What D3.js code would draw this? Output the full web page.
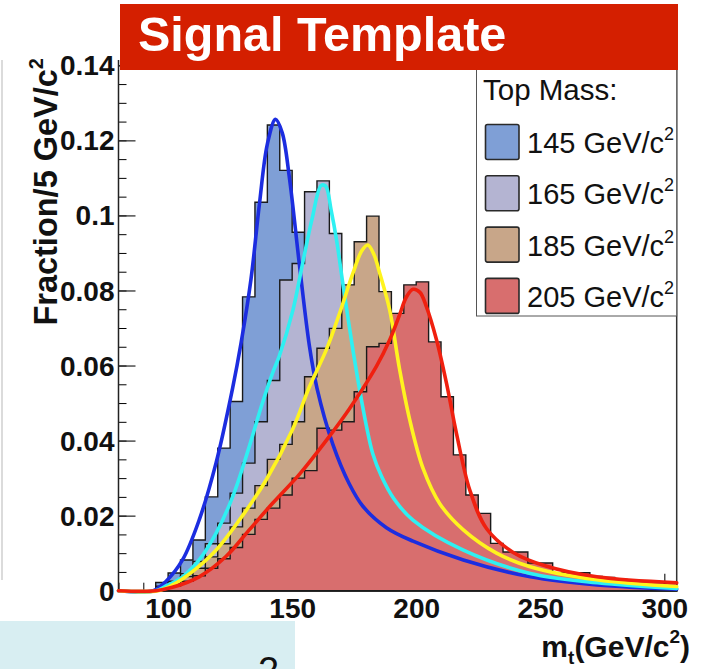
<!DOCTYPE html>
<html><head><meta charset="utf-8">
<script src="https://cdn.jsdelivr.net/npm/d3@7"></script>
<style>
html,body{margin:0;padding:0;background:#fff;}
svg text{font-family:"Liberation Sans",Arial,Helvetica,sans-serif;}
</style></head>
<body><svg id="c" width="702" height="669"></svg>
<script>
// ---------- DATA ----------
const binStart = 95, binWidth = 5;
const masses = ["145","165","185","205"];
const h145 = [0.0022,0.0047,0.0082,0.0135,0.025,0.038,0.0504,0.0783,0.1035,0.1241,0.112,0.0955,0.07,0.05,0.036,0.027,0.021,0.018,0.016,0.014,0.013,0.012,0.0105,0.009,0.0082,0.0072,0.0064,0.0056,0.005,0.0044,0.0038,0.0033,0.0029,0.0025,0.0022,0.0019,0.0016,0.0014,0.0012,0.001,0.0009,0.0008];
const h165 = [0.0012,0.0025,0.0045,0.0078,0.0125,0.018,0.026,0.034,0.045,0.056,0.0828,0.0872,0.1063,0.1092,0.0952,0.075,0.057,0.045,0.035,0.028,0.022,0.018,0.015,0.013,0.011,0.0095,0.0082,0.007,0.006,0.0052,0.0045,0.0039,0.0034,0.003,0.0026,0.0023,0.002,0.0017,0.0015,0.0013,0.0011,0.001];
const h185 = [0.0009,0.002,0.0038,0.006,0.009,0.0125,0.017,0.022,0.028,0.035,0.039,0.045,0.057,0.0646,0.0699,0.0815,0.093,0.0998,0.0797,0.062,0.048,0.036,0.028,0.022,0.018,0.015,0.012,0.01,0.0085,0.0072,0.006,0.0052,0.0045,0.0039,0.0034,0.003,0.0026,0.0022,0.0019,0.0016,0.0014,0.0012];
const h205 = [0.0006,0.0013,0.0025,0.004,0.006,0.0085,0.0115,0.015,0.019,0.022,0.0255,0.03,0.032,0.0433,0.0428,0.045,0.053,0.065,0.0659,0.0739,0.0815,0.0823,0.0663,0.0517,0.0362,0.0255,0.0206,0.0126,0.0103,0.0103,0.0074,0.0074,0.0048,0.0048,0.0048,0.0038,0.0035,0.003,0.0027,0.0024,0.0022,0.002];

const f145 = [[80,0],[94,0],[99,0.0024],[105.8,0.0082],[112.5,0.0188],[119.3,0.034],[126,0.054],[129.4,0.066],[133.4,0.083],[136.8,0.103],[140,0.119],[143.3,0.1256],[146,0.122],[148.9,0.110],[152.9,0.087],[157,0.065],[160,0.054],[166.4,0.039],[173,0.0285],[178.5,0.0225],[188,0.0168],[198.7,0.0132],[219,0.0082],[246,0.0037],[273,0.0015],[305,0.0004]];
const f165 = [[80,0],[95,0],[99,0.0012],[105.8,0.0037],[112.5,0.0082],[119.3,0.0153],[126,0.025],[132.7,0.0384],[138,0.05],[142.1,0.058],[144.8,0.0625],[150.2,0.0745],[154.3,0.0875],[158,0.099],[161.7,0.108],[163.5,0.1078],[165.7,0.1014],[168,0.093],[170.4,0.082],[174.5,0.0641],[177.2,0.0535],[179.9,0.044],[182.5,0.0365],[186,0.0305],[191,0.0245],[198.7,0.0188],[219,0.0108],[246,0.0046],[273,0.0021],[305,0.0006]];
const f185 = [[80,0],[96,0],[101.7,0.0015],[109.8,0.0051],[119.3,0.0108],[128.7,0.0188],[139.5,0.0295],[150.2,0.043],[157,0.0544],[163.7,0.0641],[169.1,0.0739],[174.5,0.0846],[178,0.0905],[180.5,0.0921],[183,0.0895],[185.3,0.0846],[189.3,0.0748],[193.3,0.059],[197.4,0.0455],[202.8,0.0325],[209.5,0.0232],[219,0.0162],[232.4,0.01],[245.9,0.0064],[272.8,0.0029],[305,0.0011]];
const f205 = [[80,0],[95,0],[101.7,0.0009],[112.5,0.0037],[123.3,0.0091],[132.7,0.0162],[142.1,0.0233],[152.9,0.031],[163.7,0.040],[173.1,0.0485],[183.9,0.0597],[189.3,0.0668],[193.3,0.0735],[196,0.0782],[198.7,0.0803],[201.5,0.0795],[204.1,0.0757],[208.2,0.0668],[212.2,0.0553],[216.2,0.042],[221.6,0.0268],[228.4,0.0165],[239.1,0.0102],[252.6,0.0065],[272.8,0.0037],[305,0.0021]];

const xTicks = [100,150,200,250,300];
const xTickLabels = ["100","150","200","250","300"];
const yTicks = [0,0.02,0.04,0.06,0.08,0.1,0.12,0.14];
const yTickLabels = ["0","0.02","0.04","0.06","0.08","0.1","0.12","0.14"];
const fillColors = ["#7f9fd6","#b4b4d2","#c8a689","#d86e6e"];
const lineColors = ["#1c2de0","#2ef0f2","#fff41e","#f0200f"];

// ---------- SCALES ----------
const svg = d3.select("#c");
const x = d3.scaleLinear().domain([80,305]).range([118.5,676.7]);
const y = d3.scaleLinear().domain([0,0.14]).range([590.7,65.3]);

// slide decorations
svg.append("line").attr("x1",2).attr("x2",2).attr("y1",60).attr("y2",580).attr("stroke","#cfcfcf").attr("stroke-width",1.5);
svg.append("rect").attr("x",0).attr("y",621).attr("width",295).attr("height",48).attr("fill","#d8eef2");
svg.append("text").attr("x",258).attr("y",684).attr("font-size",38).attr("fill","#111").text("2");

// ---------- AXES ----------
const yMinor = d3.range(0,0.1401,0.005);
svg.append("g").attr("transform","translate(118.5,0)")
  .call(d3.axisLeft(y).tickValues(yMinor).tickSizeInner(-8).tickSizeOuter(0).tickFormat(""))
  .call(g=>g.select(".domain").remove());
const gy = svg.append("g").attr("transform","translate(118.5,0)")
  .call(d3.axisLeft(y).tickValues(yTicks).tickFormat((d,i)=>yTickLabels[i]).tickSizeInner(-17).tickSizeOuter(0).tickPadding(4));
gy.select(".domain").remove();
gy.selectAll("line").attr("stroke","#222").attr("stroke-width",1.2);
gy.selectAll("text").attr("font-size",28).attr("font-weight","bold").attr("fill","#111")
  .attr("font-family","'Liberation Sans',Arial,sans-serif").attr("dy","0.34em");

const xMinor = d3.range(80,306,10);
svg.append("g").attr("transform","translate(0,590.7)")
  .call(d3.axisBottom(x).tickValues(xMinor).tickSizeInner(-8).tickSizeOuter(0).tickFormat(""))
  .call(g=>g.select(".domain").remove());
const gx = svg.append("g").attr("transform","translate(0,590.7)")
  .call(d3.axisBottom(x).tickValues(xTicks).tickFormat((d,i)=>xTickLabels[i]).tickSizeInner(-17).tickSizeOuter(0).tickPadding(7));
gx.select(".domain").remove();
gx.selectAll("line").attr("stroke","#222").attr("stroke-width",1.2);
gx.selectAll("text").attr("font-size",28).attr("font-weight","bold").attr("fill","#111")
  .attr("font-family","'Liberation Sans',Arial,sans-serif");

// frame lines
svg.append("line").attr("x1",118.5).attr("x2",118.5).attr("y1",60).attr("y2",591).attr("stroke","#222").attr("stroke-width",1.5);
svg.append("line").attr("x1",676.7).attr("x2",676.7).attr("y1",60).attr("y2",591).attr("stroke","#333").attr("stroke-width",1.5);

// ---------- HISTOGRAMS ----------
const hists = [h145,h165,h185,h205];
const stepLine = d3.line().x(d=>x(d[0])).y(d=>y(d[1]));
hists.forEach((h,k)=>{
  const pts = [[binStart,0]];
  h.forEach((v,i)=>{ const e = binStart + i*binWidth; pts.push([e,v]); pts.push([e+binWidth,v]); });
  pts.push([binStart + h.length*binWidth,0]);
  svg.append("path").attr("d",stepLine(pts)+"Z").attr("fill",fillColors[k]).attr("stroke","#1a1a1a").attr("stroke-width",1.4).attr("stroke-linejoin","miter");
});

// ---------- FIT CURVES ----------
const fits = [f145,f165,f185,f205];
const curveLine = d3.line().x(d=>x(d[0])).y(d=>y(d[1])).curve(d3.curveCatmullRom.alpha(0.5));
fits.forEach((f,k)=>{
  svg.append("path").attr("d",curveLine(f)).attr("fill","none").attr("stroke",lineColors[k]).attr("stroke-width",3.6).attr("stroke-linecap","round");
});

// ---------- LEGEND ----------
svg.append("rect").attr("x",476.5).attr("y",68).attr("width",200.2).attr("height",248).attr("fill","#fff").attr("stroke","#555").attr("stroke-width",1);
svg.append("text").attr("x",483).attr("y",100).attr("font-size",29.5).attr("fill","#111").text("Top Mass:");
masses.forEach((m,k)=>{
  const cy = 142 + k*51.3;
  svg.append("rect").attr("x",485.5).attr("y",cy-17.5).attr("width",33.5).attr("height",35).attr("rx",2)
    .attr("fill",fillColors[k]).attr("stroke","#2a2a2a").attr("stroke-width",1.6);
  const t = svg.append("text").attr("x",527).attr("y",cy+11).attr("font-size",29).attr("fill","#111");
  t.append("tspan").text(m+" GeV/c");
  t.append("tspan").attr("font-size",18).attr("dy",-13).text("2");
});

// ---------- TITLE ----------
svg.append("rect").attr("x",120).attr("y",4).attr("width",558).attr("height",66).attr("fill","#d41f00");
svg.append("text").attr("x",138).attr("y",51).attr("font-size",48.5).attr("font-weight","bold").attr("fill","#fff").text("Signal Template");

// ---------- AXIS TITLES ----------
const yt = svg.append("text").attr("transform","translate(57,58) rotate(-90)").attr("text-anchor","end")
  .attr("font-size",32.5).attr("font-weight","bold").attr("fill","#111");
yt.append("tspan").text("Fraction/5 GeV/c");
yt.append("tspan").attr("font-size",20).attr("dy",-14).text("2");

const xt = svg.append("text").attr("x",690).attr("y",657).attr("text-anchor","end")
  .attr("font-size",30).attr("font-weight","bold").attr("fill","#111");
xt.append("tspan").text("m");
xt.append("tspan").attr("font-size",19).attr("dy",7).text("t");
xt.append("tspan").attr("dy",-7).text("(GeV/c");
xt.append("tspan").attr("font-size",19).attr("dy",-14).text("2");
xt.append("tspan").attr("dy",14).text(")");
</script></body></html>
